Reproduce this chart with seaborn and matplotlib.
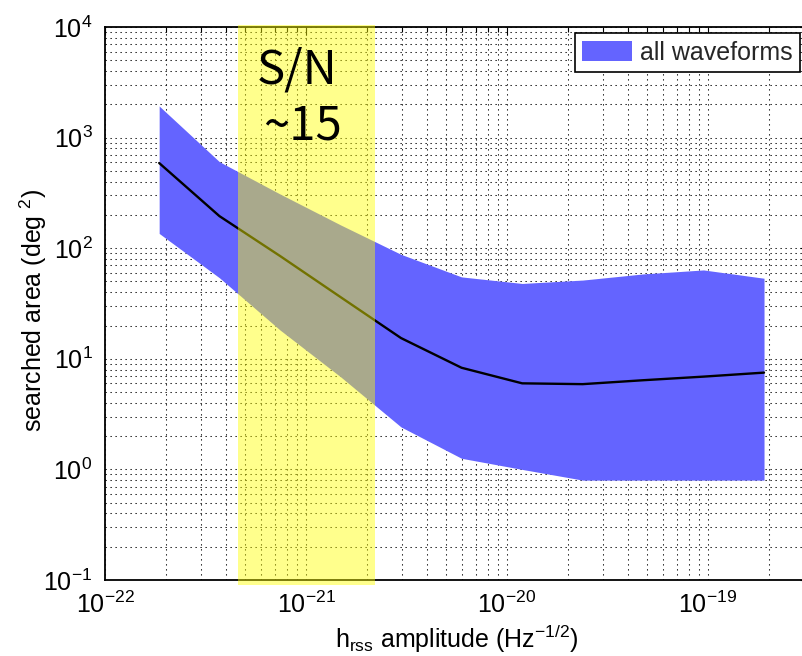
import numpy as np
import pandas as pd
import matplotlib
matplotlib.use("Agg")
import matplotlib.pyplot as plt
from matplotlib.ticker import LogLocator, FixedLocator, NullFormatter
import seaborn as sns

# h_rss amplitudes of the injection sets (Hz^-1/2)
hrss = [1.86e-22, 3.71e-22, 7.43e-22, 1.49e-21, 2.97e-21, 5.94e-21,
        1.19e-20, 2.38e-20, 4.75e-20, 9.50e-20, 1.90e-19]
# searched area (deg^2): median and spread over all waveforms
area_median = [589, 195, 85, 36, 15.4, 8.3, 6.0, 5.9, 6.4, 6.9, 7.5]
area_upper = [1930, 605, 309, 162, 88, 55, 48, 51.5, 58.5, 63.6, 53.5]
area_lower = [136, 54, 18.2, 6.85, 2.42, 1.26, 1.0, 0.80, 0.80, 0.80, 0.80]

# S/N ~ 15 range of h_rss
snr_band = [4.59e-22, 2.20e-21]

# labelled decades
x_major = [1e-22, 1e-21, 1e-20, 1e-19]
y_major = [1e-1, 1e0, 1e1, 1e2, 1e3, 1e4]

band_label = "all waveforms"
snr_text = ["S/N", "~15"]

df = pd.DataFrame({"hrss": hrss, "median": area_median,
                   "upper": area_upper, "lower": area_lower})

sns.set_theme(style="white")
plt.rcParams["font.family"] = ["Liberation Sans", "DejaVu Sans"]
plt.rcParams["mathtext.fontset"] = "custom"
plt.rcParams["mathtext.rm"] = "Liberation Sans"
plt.rcParams["mathtext.it"] = "Liberation Sans:italic"
plt.rcParams["mathtext.bf"] = "Liberation Sans:bold"
plt.rcParams["mathtext.sf"] = "Liberation Sans"

fig = plt.figure(figsize=(8.02, 6.56), dpi=100)
W, H = 802, 656
ax = fig.add_axes([105 / W, 76 / H, 703.5 / W, 553 / H])
ax.set_xscale("log")
ax.set_yscale("log")
ax.set_xlim(1e-22, 10 ** -18.5)
ax.set_ylim(1e-1, 1e4)
ax.set_facecolor("white")

# dotted grid on every decade and sub-decade
ax.set_axisbelow(True)
ax.xaxis.set_major_locator(FixedLocator(x_major))
ax.yaxis.set_major_locator(FixedLocator(y_major))
for axis in (ax.xaxis, ax.yaxis):
    axis.set_minor_locator(LogLocator(base=10, subs=np.arange(2, 10), numticks=200))
    axis.set_minor_formatter(NullFormatter())
ax.grid(which="both", color="black", linestyle=(0, (1.2, 3.6)), linewidth=0.75)

band = ax.fill_between(df["hrss"], df["lower"], df["upper"], color="#6464ff",
                       linewidth=0, zorder=1, label=band_label)
sns.lineplot(data=df, x="hrss", y="median", ax=ax, color="black",
             linewidth=1.7, legend=False, errorbar=None, zorder=2)

# S/N ~15 highlight, slightly overhanging the axes frame
ax.axvspan(snr_band[0], snr_band[1], ymin=-0.009, ymax=1.004, color="#ffff00",
           alpha=0.45, linewidth=0, zorder=4, clip_on=False)
snr_font = ["Noto Sans CJK KR", "DejaVu Sans"]
ax.text(0.2736, 0.897, snr_text[0], transform=ax.transAxes, ha="center",
        va="baseline", fontsize=34, family=snr_font, color="black", zorder=6)
ax.text(0.280, 0.7957, snr_text[1], transform=ax.transAxes, ha="center",
        va="baseline", fontsize=34, family=snr_font, color="black", zorder=6)

for s in ax.spines.values():
    s.set_color("black")
    s.set_linewidth(1.3)
ax.tick_params(which="both", direction="in", top=True, right=True,
               colors="black", width=0.8)
ax.tick_params(which="major", length=6, labelsize=18)
ax.tick_params(which="minor", length=3.6)
ax.tick_params(axis="y", which="major", pad=9)
ax.tick_params(axis="x", which="major", pad=8)

ax.set_xlabel(r"h$_{\rm rss}$ amplitude (Hz$^{-1/2}$)", fontsize=18, color="black")
ax.set_ylabel(r"searched area (deg $^{2}$)", fontsize=18, color="black")
ax.xaxis.set_label_coords(0.5, -0.078)
ax.yaxis.set_label_coords(-0.08, 0.487)

leg = ax.legend(handles=[band], labels=[band_label], loc="upper right",
                bbox_to_anchor=(800 / W, 1 - 33 / H), bbox_transform=fig.transFigure,
                fontsize=18, frameon=True, fancybox=False, framealpha=1,
                edgecolor="black", borderpad=0.3, handlelength=2.0,
                handleheight=0.9, handletextpad=0.3, borderaxespad=0)
leg.get_frame().set_linewidth(1.2)
leg.set_zorder(7)

fig.savefig("out.png", dpi=100)
